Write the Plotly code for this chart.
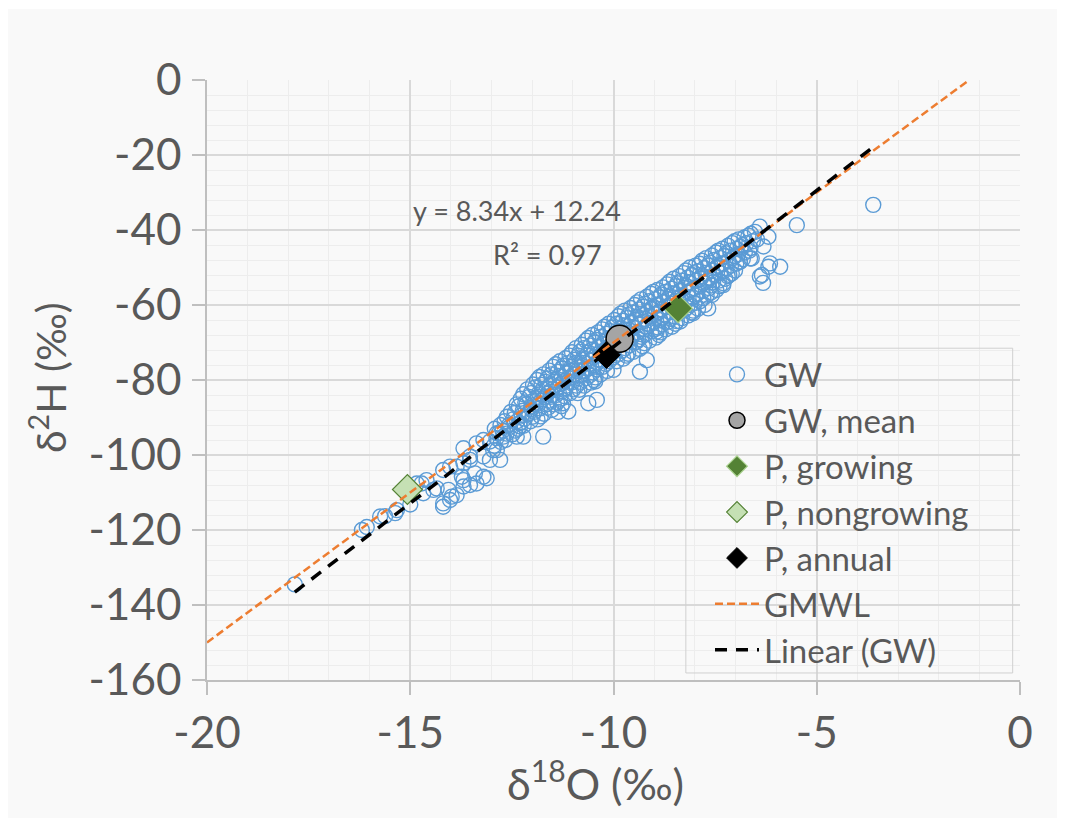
import plotly.graph_objects as go

# ---------------- data ----------------
# GW samples (d18O, d2H): sparse low tail
gw_tail = [
    (-17.84, -134.5), (-16.19, -120.0), (-16.07, -119.2), (-15.74, -116.4), (-15.62, -116.3),
    (-15.37, -115.5), (-15.33, -114.7), (-15.00, -113.2), (-14.84, -107.6), (-14.72, -107.6),
    (-14.60, -106.7), (-14.68, -110.2), (-14.43, -109.3), (-14.35, -108.9), (-14.19, -112.9),
    (-14.19, -113.8), (-14.02, -112.0), (-13.98, -111.1), (-13.86, -110.7), (-14.06, -109.3),
    (-13.69, -108.4), (-13.53, -108.0), (-13.37, -107.6), (-13.12, -106.2), (-13.41, -104.9),
    (-13.20, -105.8), (-13.73, -105.8), (-13.69, -106.7), (-14.19, -104.0), (-14.02, -103.1),
    (-13.86, -103.1), (-13.69, -102.2), (-13.53, -101.3), (-13.53, -100.4), (-13.20, -100.4),
    (-13.04, -101.3), (-12.87, -98.7), (-12.96, -98.7), (-12.79, -101.3), (-12.71, -95.1),
    (-13.69, -98.2), (-13.37, -96.9), (-13.04, -96.4), (-13.20, -96.0), (-12.87, -94.2),
]

# GW samples: dense main band
gw_band = [
    (-12.92, -93.0), (-12.88, -95.5), (-12.94, -97.5),
    (-12.68, -91.0), (-12.73, -93.5), (-12.66, -96.0),
    (-12.52, -88.5), (-12.47, -90.5), (-12.55, -92.5), (-12.49, -94.5),
    (-12.28, -85.0), (-12.33, -87.0), (-12.26, -89.5), (-12.31, -91.5), (-12.35, -93.0),
    (-12.12, -82.5), (-12.07, -84.5), (-12.14, -86.5), (-12.09, -89.0), (-12.04, -91.0),
    (-11.88, -80.0), (-11.93, -82.0), (-11.86, -84.5), (-11.91, -86.5), (-11.95, -88.5), (-11.87, -90.5),
    (-11.72, -78.5), (-11.67, -80.5), (-11.74, -82.5), (-11.69, -84.5), (-11.65, -86.5), (-11.71, -89.0),
    (-11.48, -76.5), (-11.53, -78.5), (-11.46, -80.5), (-11.51, -82.5), (-11.55, -84.5), (-11.47, -86.5), (-11.52, -88.0),
    (-11.32, -75.0), (-11.27, -77.0), (-11.34, -79.0), (-11.29, -81.0), (-11.25, -83.0), (-11.31, -85.0), (-11.28, -87.0),
    (-11.08, -73.5), (-11.13, -75.5), (-11.06, -77.5), (-11.11, -79.5), (-11.15, -81.5), (-11.07, -83.5),
    (-10.92, -71.5), (-10.87, -73.5), (-10.94, -75.5), (-10.89, -77.5), (-10.85, -79.5), (-10.91, -81.5), (-10.88, -83.5),
    (-10.68, -69.5), (-10.73, -71.5), (-10.66, -73.5), (-10.71, -75.5), (-10.75, -77.5), (-10.67, -79.5), (-10.72, -81.5),
    (-10.52, -68.0), (-10.47, -70.0), (-10.54, -72.0), (-10.49, -74.0), (-10.45, -76.0), (-10.51, -78.0), (-10.48, -80.0),
    (-10.28, -66.5), (-10.33, -68.5), (-10.26, -70.5), (-10.31, -72.5), (-10.35, -74.5), (-10.27, -76.5), (-10.32, -78.5),
    (-10.12, -65.0), (-10.07, -67.0), (-10.14, -69.0), (-10.09, -71.0), (-10.05, -73.0), (-10.11, -75.0),
    (-9.88, -63.0), (-9.93, -65.0), (-9.86, -67.0), (-9.91, -69.0), (-9.95, -71.0), (-9.87, -73.0), (-9.92, -75.0),
    (-9.72, -61.5), (-9.67, -63.5), (-9.74, -65.5), (-9.69, -67.5), (-9.65, -69.5), (-9.71, -71.5), (-9.68, -73.5),
    (-9.48, -60.0), (-9.53, -62.0), (-9.46, -64.0), (-9.51, -66.0), (-9.55, -68.0), (-9.47, -70.0), (-9.52, -72.5),
    (-9.32, -58.5), (-9.27, -60.5), (-9.34, -62.5), (-9.29, -64.5), (-9.25, -66.5), (-9.31, -68.5), (-9.28, -71.0),
    (-9.08, -57.0), (-9.13, -59.0), (-9.06, -61.0), (-9.11, -63.0), (-9.15, -65.0), (-9.07, -67.0), (-9.12, -69.5),
    (-8.92, -56.0), (-8.87, -58.0), (-8.94, -60.0), (-8.89, -62.0), (-8.85, -64.0), (-8.91, -66.0), (-8.88, -68.0),
    (-8.68, -54.5), (-8.73, -56.5), (-8.66, -58.5), (-8.71, -60.5), (-8.75, -62.5), (-8.67, -64.5), (-8.72, -66.5),
    (-8.52, -53.0), (-8.47, -55.0), (-8.54, -57.0), (-8.49, -59.0), (-8.45, -61.0), (-8.51, -63.0), (-8.48, -65.0),
    (-8.28, -51.5), (-8.33, -53.5), (-8.26, -55.5), (-8.31, -57.5), (-8.35, -59.5), (-8.27, -61.5), (-8.32, -63.5),
    (-8.12, -50.0), (-8.07, -52.0), (-8.14, -54.0), (-8.09, -56.0), (-8.05, -58.0), (-8.11, -60.0), (-8.08, -62.0),
    (-7.88, -49.0), (-7.93, -51.0), (-7.86, -53.0), (-7.91, -55.0), (-7.95, -57.0), (-7.87, -59.0), (-7.92, -61.0),
    (-7.72, -47.5), (-7.67, -49.5), (-7.74, -51.5), (-7.69, -53.5), (-7.65, -55.5), (-7.71, -57.5),
    (-7.48, -46.0), (-7.53, -48.0), (-7.46, -50.0), (-7.51, -52.0), (-7.55, -54.0), (-7.47, -56.0),
    (-7.32, -45.0), (-7.27, -47.0), (-7.34, -49.0), (-7.29, -51.0), (-7.25, -53.0),
    (-7.08, -43.5), (-7.13, -45.5), (-7.06, -47.5), (-7.11, -49.5), (-7.15, -52.0),
    (-6.92, -42.5), (-6.87, -44.5), (-6.94, -46.5), (-6.89, -48.5),
    (-6.68, -41.5), (-6.73, -43.5), (-6.66, -45.5),
    (-6.52, -40.5), (-6.47, -42.5),
]

# GW samples: dense main band, in-between columns
gw_band_b = [
    (-12.78, -92.0), (-12.82, -94.2), (-12.77, -96.5),
    (-12.62, -89.8), (-12.57, -92.0), (-12.63, -94.3),
    (-12.38, -86.5), (-12.43, -88.8), (-12.37, -91.0), (-12.42, -93.5),
    (-12.22, -83.8), (-12.17, -86.0), (-12.23, -88.2), (-12.18, -90.3), (-12.21, -92.2),
    (-11.98, -81.2), (-12.03, -83.5), (-11.97, -85.5), (-12.02, -87.8), (-11.99, -89.8),
    (-11.82, -79.2), (-11.77, -81.3), (-11.83, -83.5), (-11.78, -85.6), (-11.81, -87.6), (-11.79, -89.7),
    (-11.58, -77.5), (-11.63, -79.6), (-11.57, -81.5), (-11.62, -83.6), (-11.59, -85.5), (-11.61, -87.4),
    (-11.42, -75.8), (-11.37, -77.8), (-11.43, -80.0), (-11.38, -82.0), (-11.41, -84.0), (-11.39, -86.0), (-11.36, -88.5),
    (-11.18, -74.2), (-11.23, -76.2), (-11.17, -78.2), (-11.22, -80.3), (-11.19, -82.2), (-11.21, -84.3), (-11.24, -86.2),
    (-11.02, -72.6), (-10.97, -74.6), (-11.03, -76.5), (-10.98, -78.5), (-11.01, -80.6), (-10.99, -82.5),
    (-10.78, -70.6), (-10.83, -72.5), (-10.77, -74.6), (-10.82, -76.6), (-10.79, -78.5), (-10.81, -80.5), (-10.84, -82.6),
    (-10.62, -68.8), (-10.57, -70.8), (-10.63, -72.7), (-10.58, -74.8), (-10.61, -76.8), (-10.59, -78.8), (-10.56, -80.7),
    (-10.38, -67.3), (-10.43, -69.3), (-10.37, -71.2), (-10.42, -73.3), (-10.39, -75.3), (-10.41, -77.2), (-10.44, -79.3),
    (-10.22, -65.8), (-10.17, -67.7), (-10.23, -69.8), (-10.18, -71.7), (-10.21, -73.8), (-10.19, -75.7), (-10.16, -77.6),
    (-9.98, -64.0), (-10.03, -66.0), (-9.97, -68.0), (-10.02, -70.0), (-9.99, -72.0), (-10.01, -74.0),
    (-9.82, -62.3), (-9.77, -64.2), (-9.83, -66.3), (-9.78, -68.2), (-9.81, -70.3), (-9.79, -72.2), (-9.76, -74.3),
    (-9.58, -60.8), (-9.63, -62.7), (-9.57, -64.8), (-9.62, -66.7), (-9.59, -68.8), (-9.61, -70.7), (-9.64, -73.0),
    (-9.42, -59.3), (-9.37, -61.2), (-9.43, -63.3), (-9.38, -65.2), (-9.41, -67.3), (-9.39, -69.2), (-9.36, -71.7),
    (-9.18, -57.8), (-9.23, -59.7), (-9.17, -61.8), (-9.22, -63.7), (-9.19, -65.8), (-9.21, -67.7), (-9.24, -70.2),
    (-9.02, -56.5), (-8.97, -58.5), (-9.03, -60.5), (-8.98, -62.5), (-9.01, -64.5), (-8.99, -66.5), (-8.96, -68.7),
    (-8.78, -55.3), (-8.83, -57.2), (-8.77, -59.3), (-8.82, -61.2), (-8.79, -63.3), (-8.81, -65.2), (-8.84, -67.3),
    (-8.62, -53.8), (-8.57, -55.7), (-8.63, -57.8), (-8.58, -59.7), (-8.61, -61.8), (-8.59, -63.7), (-8.56, -65.8),
    (-8.38, -52.3), (-8.43, -54.2), (-8.37, -56.3), (-8.42, -58.2), (-8.39, -60.3), (-8.41, -62.2), (-8.44, -64.3),
    (-8.22, -50.8), (-8.17, -52.7), (-8.23, -54.8), (-8.18, -56.7), (-8.21, -58.8), (-8.19, -60.7), (-8.16, -62.8),
    (-7.98, -49.5), (-8.03, -51.5), (-7.97, -53.5), (-8.02, -55.5), (-7.99, -57.5), (-8.01, -59.5), (-8.04, -61.5),
    (-7.82, -48.2), (-7.77, -50.2), (-7.83, -52.3), (-7.78, -54.2), (-7.81, -56.3), (-7.79, -58.2), (-7.76, -60.0),
    (-7.58, -46.8), (-7.63, -48.7), (-7.57, -50.8), (-7.62, -52.7), (-7.59, -54.8), (-7.61, -56.7),
    (-7.42, -45.5), (-7.37, -47.5), (-7.43, -49.5), (-7.38, -51.5), (-7.41, -53.5), (-7.39, -55.0),
    (-7.18, -44.2), (-7.23, -46.2), (-7.17, -48.3), (-7.22, -50.2), (-7.19, -52.3),
    (-7.02, -43.0), (-6.97, -45.0), (-7.03, -47.0), (-6.98, -49.0), (-7.01, -50.8),
    (-6.78, -42.0), (-6.83, -44.0), (-6.77, -46.0), (-6.82, -47.8),
    (-6.62, -41.0), (-6.57, -43.0), (-6.63, -44.8),
]

# GW samples: scattered points off the band
gw_scatter = [
    (-12.38, -95.1), (-12.22, -95.1), (-12.30, -92.4), (-11.73, -95.1), (-11.11, -88.4),
    (-10.62, -86.2), (-10.41, -85.3), (-10.45, -80.4), (-10.00, -77.3), (-9.35, -77.8),
    (-9.18, -74.7), (-9.43, -69.8), (-8.94, -67.1), (-8.36, -64.4), (-8.04, -62.2),
    (-7.67, -60.9), (-7.58, -57.3), (-7.30, -54.7), (-7.30, -54.2), (-7.09, -51.6),
    (-6.89, -48.4), (-6.64, -47.6), (-6.60, -47.6), (-6.35, -52.0), (-6.40, -52.4),
    (-6.32, -54.1), (-6.19, -49.8), (-6.15, -48.9), (-5.90, -49.8), (-6.31, -44.4),
    (-6.19, -41.8), (-6.40, -39.1), (-5.49, -38.7), (-3.61, -33.3),
]

gw_all = gw_tail + gw_band + gw_band_b + gw_scatter
gw_d18O = [p[0] for p in gw_all]
gw_d2H = [p[1] for p in gw_all]

gw_mean = (-9.85, -69.0)
p_growing = (-8.41, -60.9)
p_nongrowing = (-15.07, -109.2)
p_annual = (-10.17, -73.3)

# GMWL: d2H = 8 * d18O + 10
gmwl_slope, gmwl_intercept = 8.0, 10.0
gmwl_x = [-20.0, -1.25]

# Linear fit to GW
fit_slope, fit_intercept, fit_r2 = 8.34, 12.24, 0.97

x_ticks = [-20, -15, -10, -5, 0]
y_ticks = [-160, -140, -120, -100, -80, -60, -40, -20, 0]

# ---------------- figure ----------------
FONT = "Lato, 'Open Sans', sans-serif"
GRAY_TXT = "#595959"

fig = go.Figure()

fig.add_trace(go.Scatter(
    x=gw_d18O, y=gw_d2H, mode="markers", name="GW",
    marker=dict(symbol="circle-open", size=15, color="#5b9bd5", line=dict(width=1.4, color="#5b9bd5")),
))
fig.add_trace(go.Scatter(
    x=[gw_mean[0]], y=[gw_mean[1]], mode="markers", name="GW, mean",
    marker=dict(symbol="circle", size=27, color="#a5a5a5", line=dict(width=1.5, color="black")),
))
fig.add_trace(go.Scatter(
    x=[p_growing[0]], y=[p_growing[1]], mode="markers", name="P, growing",
    marker=dict(symbol="diamond", size=22, color="#548235", line=dict(width=1.2, color="#a9d18e")),
))
fig.add_trace(go.Scatter(
    x=[p_nongrowing[0]], y=[p_nongrowing[1]], mode="markers", name="P, nongrowing",
    marker=dict(symbol="diamond", size=23, color="#c5e0b4", line=dict(width=1.2, color="#548235")),
))
fig.add_trace(go.Scatter(
    x=[p_annual[0]], y=[p_annual[1]], mode="markers", name="P, annual",
    marker=dict(symbol="diamond", size=21, color="black", line=dict(width=1, color="black")),
))
fig.add_trace(go.Scatter(
    x=gmwl_x, y=[gmwl_slope * v + gmwl_intercept for v in gmwl_x], mode="lines", name="GMWL",
    line=dict(color="#ed7d31", width=2.5, dash="8px,4px"),
))
fit_x = [min(gw_d18O), max(gw_d18O)]
fig.add_trace(go.Scatter(
    x=fit_x, y=[fit_slope * v + fit_intercept for v in fit_x], mode="lines", name="Linear (GW)",
    line=dict(color="black", width=3.5, dash="12px,9px"),
))

axis_common = dict(
    showline=True, linecolor="#bfbfbf", linewidth=1.5,
    ticks="outside", ticklen=13, tickcolor="#bfbfbf", tickwidth=1.5,
    gridcolor="#d9d9d9", gridwidth=1.5,
    tickfont=dict(family=FONT, size=44, color=GRAY_TXT),
    zeroline=False,
)
fig.update_xaxes(
    range=[-20, 0], tickvals=x_ticks, ticktext=[str(v) for v in x_ticks],
    minor=dict(dtick=1, tick0=0, gridcolor="#ededed", gridwidth=1, showgrid=True, ticks=""),
    **axis_common,
)
fig.update_yaxes(
    range=[-160, 0], tickvals=y_ticks, ticktext=[str(v) for v in y_ticks],
    minor=dict(dtick=4, tick0=0, gridcolor="#ededed", gridwidth=1, showgrid=True, ticks=""),
    ticklabelstandoff=2,
    **axis_common,
)

fig.update_layout(
    width=1065, height=827,
    margin=dict(l=199, r=53, t=72, b=155),
    paper_bgcolor="white", plot_bgcolor="#fafafa",
    font=dict(family=FONT, color=GRAY_TXT),
    showlegend=True,
    legend=dict(
        x=0.6187, y=0.556, xanchor="left", yanchor="top",
        bgcolor="rgba(0,0,0,0)", borderwidth=0,
        font=dict(family=FONT, size=33, color=GRAY_TXT),
        itemsizing="trace", itemwidth=44,
    ),
    shapes=[
        dict(type="rect", xref="paper", yref="paper", x0=-0.2472, x1=1.048, y0=-0.23, y1=1.1183,
             fillcolor="#f9f9f9", line=dict(width=0), layer="below"),
        dict(type="rect", xref="paper", yref="paper", x0=0.589, x1=0.991, y0=0.0117, y1=0.553,
             fillcolor="rgba(0,0,0,0)", line=dict(width=1, color="#d0d0d0"), layer="above"),
    ],
    annotations=[
        dict(x=-12.374, y=-34.67, xref="x", yref="y", showarrow=False,
             text=f"y = {fit_slope:.2f}x + {fit_intercept:.2f}",
             font=dict(family=FONT, size=27, color=GRAY_TXT)),
        dict(x=-11.636, y=-46.4, xref="x", yref="y", showarrow=False,
             text=f"R² = {fit_r2:.2f}",
             font=dict(family=FONT, size=27, color=GRAY_TXT)),
        dict(x=0.478, y=-0.1667, xref="paper", yref="paper", showarrow=False,
             xanchor="center", yanchor="middle",
             text="δ<sup>18</sup>O (‰)",
             font=dict(family=FONT, size=43, color=GRAY_TXT)),
        dict(x=-0.1956, y=0.505, xref="paper", yref="paper", showarrow=False,
             xanchor="center", yanchor="middle", textangle=-90,
             text="δ<sup>2</sup>H (‰)",
             font=dict(family=FONT, size=41, color=GRAY_TXT)),
    ],
)

fig.write_html("out.html")
